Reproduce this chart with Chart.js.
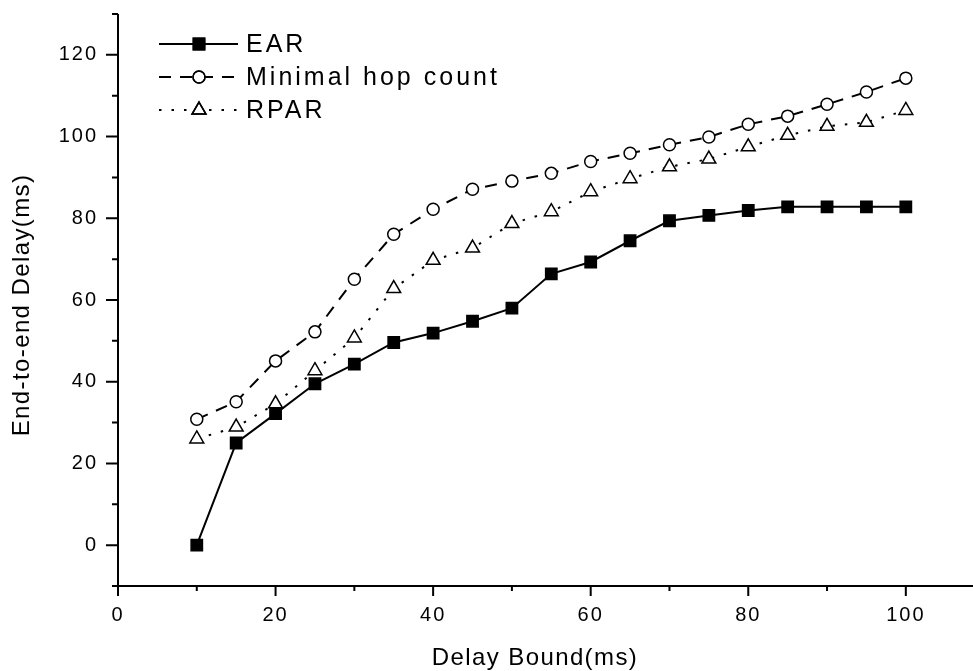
<!DOCTYPE html>
<html>
<head>
<meta charset="utf-8">
<script src="https://cdn.jsdelivr.net/npm/chart.js@4.4.1/dist/chart.umd.min.js"></script>
<style>
  html, body { margin: 0; padding: 0; background: #fff; }
  #wrap { width: 973px; height: 671px; }
</style>
</head>
<body>
<div id="wrap"><canvas id="c" width="973" height="671"></canvas></div>
<script>
// Delay bound (ms) on the x axis
const delayBound = [10, 15, 20, 25, 30, 35, 40, 45, 50, 55, 60, 65, 70, 75, 80, 85, 90, 95, 100];
// End-to-end delay (ms) for each routing scheme
const ear        = [0, 25.0, 32.2, 39.5, 44.3, 49.6, 51.9, 54.8, 58.0, 66.4, 69.3, 74.5, 79.4, 80.7, 81.9, 82.8, 82.8, 82.8, 82.8];
const minimalHop = [30.8, 35.1, 45.1, 52.2, 65.1, 76.1, 82.2, 87.1, 89.1, 91.0, 93.9, 95.9, 98.0, 99.9, 103.0, 105.0, 107.9, 110.9, 114.3];
const rpar       = [26.0, 28.9, 34.6, 42.7, 50.7, 62.8, 69.7, 72.7, 78.7, 81.6, 86.5, 89.7, 92.6, 94.5, 97.5, 100.3, 102.5, 103.5, 106.4];

const seriesNames = ['EAR', 'Minimal hop count', 'RPAR'];
const xTitle = 'Delay Bound(ms)';
const yTitle = 'End-to-end Delay(ms)';
const xTickLabels = [0, 20, 40, 60, 80, 100];
const yTickLabels = [0, 20, 40, 60, 80, 100, 120];

const FONT = '"Liberation Sans", Arial, Helvetica, sans-serif';

const pairs = ys => delayBound.map((x, i) => ({ x: x, y: ys[i] }));

const styles = [
  { borderDash: [], pointStyle: 'rect', pointRadius: 8, fill: '#000' },
  { borderDash: [12, 9], pointStyle: 'circle', pointRadius: 6, fill: '#fff' },
  { borderDash: [2.5, 10], pointStyle: 'triangle', pointRadius: 8, fill: '#fff' }
];

const datasets = [ear, minimalHop, rpar].map((ys, i) => ({
  label: seriesNames[i],
  data: pairs(ys),
  borderColor: '#000',
  borderWidth: 2,
  borderDash: styles[i].borderDash,
  tension: 0,
  fill: false,
  pointStyle: styles[i].pointStyle,
  pointRadius: styles[i].pointRadius,
  pointBackgroundColor: styles[i].fill,
  pointBorderColor: '#000',
  pointBorderWidth: 1.5,
  clip: false
}));

// Axis lines with outward major / minor tick marks
const axesPlugin = {
  id: 'originAxes',
  beforeDatasetsDraw(chart) {
    const { ctx, chartArea: a, scales: { x, y } } = chart;
    ctx.save();
    ctx.strokeStyle = '#000';
    ctx.lineWidth = 2;
    ctx.setLineDash([]);
    ctx.beginPath();
    ctx.moveTo(a.left, a.top);
    ctx.lineTo(a.left, a.bottom);
    ctx.moveTo(a.left - 1, a.bottom);
    ctx.lineTo(a.right + 2, a.bottom);
    for (let v = -10; v <= 130; v += 10) {
      const py = y.getPixelForValue(v);
      const len = v % 20 === 0 ? 12 : 6;
      ctx.moveTo(a.left, py);
      ctx.lineTo(a.left - len, py);
    }
    for (let v = 0; v <= 100; v += 10) {
      const px = x.getPixelForValue(v);
      const len = v % 20 === 0 ? 10 : 5;
      ctx.moveTo(px, a.bottom);
      ctx.lineTo(px, a.bottom + len);
    }
    ctx.stroke();
    ctx.restore();
  }
};

// Spaced tick lettering
const spacingPlugin = {
  id: 'tickSpacing',
  beforeDraw(chart) { chart.ctx.letterSpacing = '2px'; },
  afterDraw(chart) { chart.ctx.letterSpacing = '0px'; }
};

// Axis titles and the line-and-marker legend
const labelsPlugin = {
  id: 'labelsAndLegend',
  afterDraw(chart) {
    const ctx = chart.ctx;
    ctx.save();
    ctx.fillStyle = '#000';
    ctx.letterSpacing = '1.4px';
    ctx.font = '24px ' + FONT;
    ctx.textAlign = 'center';
    ctx.textBaseline = 'alphabetic';
    ctx.fillText(xTitle, 535, 665);
    ctx.save();
    ctx.translate(29, 305);
    ctx.rotate(-Math.PI / 2);
    ctx.fillText(yTitle, 0, 0);
    ctx.restore();

    const rows = [44, 77, 110];
    chart.data.datasets.forEach((ds, i) => {
      const yy = rows[i];
      ctx.strokeStyle = '#000';
      ctx.lineWidth = 2;
      ctx.setLineDash(ds.borderDash);
      ctx.beginPath();
      ctx.moveTo(159, yy);
      ctx.lineTo(238, yy);
      ctx.stroke();
      ctx.setLineDash([]);
      ctx.fillStyle = ds.pointBackgroundColor;
      ctx.strokeStyle = '#000';
      ctx.lineWidth = ds.pointBorderWidth;
      Chart.helpers.drawPoint(ctx, {
        pointStyle: ds.pointStyle,
        radius: ds.pointRadius,
        rotation: 0,
        borderWidth: ds.pointBorderWidth
      }, 199, yy);
      if (ds.pointBorderWidth) ctx.stroke();
      ctx.fillStyle = '#000';
      ctx.letterSpacing = '3px';
      ctx.font = '25px ' + FONT;
      ctx.textAlign = 'left';
      ctx.textBaseline = 'middle';
      ctx.fillText(ds.label, 246, yy + 1);
    });
    ctx.restore();
  }
};

new Chart(document.getElementById('c'), {
  type: 'line',
  data: { datasets: datasets },
  options: {
    responsive: false,
    devicePixelRatio: 1,
    animation: false,
    events: [],
    layout: { autoPadding: false, padding: { top: 14, right: 1, left: 0, bottom: 0 } },
    plugins: { legend: { display: false }, tooltip: { enabled: false } },
    scales: {
      x: {
        type: 'linear',
        min: 0,
        max: 108.4,
        grid: { display: false, drawTicks: false },
        border: { display: false },
        ticks: {
          stepSize: 20,
          padding: 17,
          maxRotation: 0,
          color: '#000',
          font: { family: FONT, size: 20 }
        },
        afterBuildTicks(scale) {
          scale.ticks = xTickLabels.map(v => ({ value: v }));
        },
        afterFit(scale) {
          scale.height = 85;
          scale.paddingLeft = 0;
          scale.paddingRight = 0;
        }
      },
      y: {
        type: 'linear',
        min: -10,
        max: 130,
        grid: { display: false, drawTicks: false },
        border: { display: false },
        ticks: {
          stepSize: 20,
          padding: 20,
          color: '#000',
          font: { family: FONT, size: 20 }
        },
        afterBuildTicks(scale) {
          scale.ticks = yTickLabels.map(v => ({ value: v }));
        },
        afterFit(scale) {
          scale.width = 118;
          scale.paddingTop = 0;
          scale.paddingBottom = 0;
        }
      }
    }
  },
  plugins: [axesPlugin, spacingPlugin, labelsPlugin]
});
</script>
</body>
</html>
